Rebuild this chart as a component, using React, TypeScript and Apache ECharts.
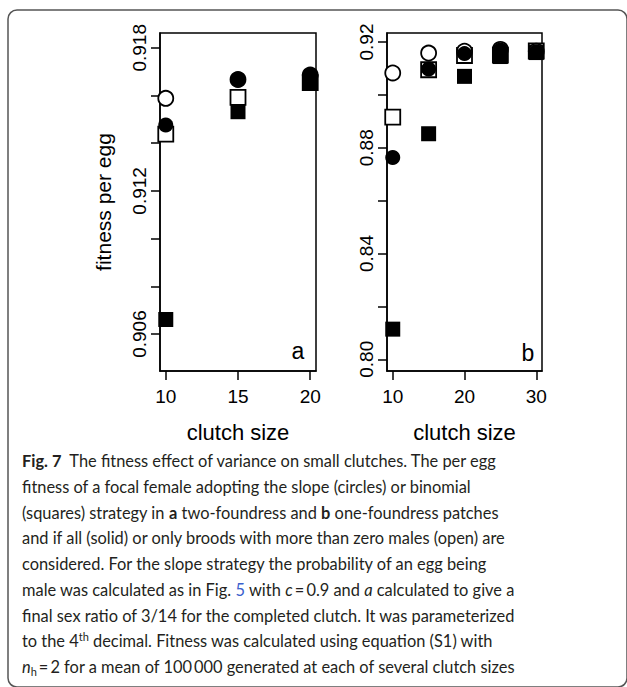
import React, { useEffect, useRef } from "react";
import * as echarts from "echarts";

// ---- data ----
const xA = [10, 15, 20];
const aSlopeAll = [0.91476, 0.91667, 0.91686]; // filled circles
const aSlopeMale = [0.91588, 0.91667, 0.91686]; // open circles
const aBinomAll = [0.90661, 0.91532, 0.91654]; // filled squares
const aBinomMale = [0.91438, 0.91592, 0.91654]; // open squares

const xB = [10, 15, 20, 25, 30];
const bSlopeAll = [0.8763, 0.9098, 0.9156, 0.917, 0.9163];
const bSlopeMale = [0.9083, 0.9158, 0.9165, 0.9172, 0.9165];
const bBinomAll = [0.8114, 0.8853, 0.907, 0.9145, 0.916];
const bBinomMale = [0.8916, 0.9095, 0.9149, 0.915, 0.9166];

const aXTicks = [10, 15, 20];
const aYTicks = [0.906, 0.908, 0.91, 0.912, 0.914, 0.916, 0.918];
const aYLabels = [0.906, 0.912, 0.918];
const bXTicks = [10, 20, 30];
const bYTicks = [0.8, 0.82, 0.84, 0.86, 0.88, 0.9, 0.92];
const bYLabels = [0.8, 0.84, 0.88, 0.92];

const captionLines = [
  "{b|Fig. 7}  The fitness effect of variance on small clutches. The per egg",
  "fitness of a focal female adopting the slope (circles) or binomial",
  "(squares) strategy in {b|a} two-foundress and {b|b} one-foundress patches",
  "and if all (solid) or only broods with more than zero males (open) are",
  "considered. For the slope strategy the probability of an egg being",
  "male was calculated as in Fig. {blue|5} with {i|c}\u2009=\u20090.9 and {i|a} calculated to give a",
  "final sex ratio of 3/14 for the completed clutch. It was parameterized",
  "to the 4{sup|th} decimal. Fitness was calculated using equation (S1) with",
  "{i|n}{sub|h}\u2009=\u20092 for a mean of 100\u2009000 generated at each of several clutch sizes",
];

const AX_FONT = "Liberation Sans";
const CAP_FONT = "Lato";
const CAP_SIZE = 16.4;

function pts(xs: number[], ys: number[]) {
  return xs.map((x, i) => [x, ys[i]]);
}

export default function App() {
  const ref = useRef<HTMLDivElement>(null);
  useEffect(() => {
    if (!ref.current) return;
    const chart = echarts.init(ref.current, undefined, { renderer: "svg" });

    const mkX = (idx: number, min: number, max: number, ticks: number[]) => ({
      type: "value",
      gridIndex: idx,
      min,
      max,
      name: "clutch size",
      nameLocation: "middle",
      nameGap: 50,
      nameTextStyle: { fontSize: 22, color: "#000", fontFamily: AX_FONT },
      axisLine: { show: true, onZero: false, lineStyle: { color: "#000", width: 1.5 } },
      axisTick: { show: true, customValues: ticks, length: 9, lineStyle: { color: "#000", width: 1.5 } },
      axisLabel: { customValues: ticks, fontSize: 19, color: "#000", fontFamily: AX_FONT, margin: 16 },
      splitLine: { show: false },
    });

    const mkY = (
      idx: number,
      min: number,
      max: number,
      ticks: number[],
      labels: number[],
      digits: number,
      name: string
    ) => ({
      type: "value",
      gridIndex: idx,
      min,
      max,
      name,
      nameLocation: "middle",
      nameGap: 46,
      nameTextStyle: { fontSize: 21, color: "#000", fontFamily: AX_FONT },
      axisLine: { show: true, onZero: false, lineStyle: { color: "#000", width: 1.5 } },
      axisTick: { show: true, customValues: ticks, length: 9, lineStyle: { color: "#000", width: 1.5 } },
      axisLabel: {
        customValues: labels,
        rotate: 90,
        fontSize: 19,
        color: "#000",
        fontFamily: AX_FONT,
        margin: 11,
        formatter: (v: number) => v.toFixed(digits),
      },
      splitLine: { show: false },
    });

    const open = { color: "#fff", borderColor: "#000", borderWidth: 1.8, opacity: 1 };
    const filled = { color: "#000", opacity: 1 };
    const mkS = (xi: number, data: number[][], symbol: string, style: any, z: number) => ({
      type: "scatter",
      xAxisIndex: xi,
      yAxisIndex: xi,
      data,
      symbol,
      symbolSize: 15,
      itemStyle: style,
      emphasis: { disabled: true },
      z,
      clip: false,
    });

    const capStyles = captionLines.map((t, i) => ({
      text: t,
      x: 22,
      y: 460.5 + i * 25.75,
      fill: "#231f20",
      fontSize: CAP_SIZE,
      fontFamily: CAP_FONT,
      verticalAlign: "middle",
      rich: {
        b: { fontWeight: "bold", fontSize: CAP_SIZE, fontFamily: CAP_FONT, fill: "#231f20" },
        i: { fontStyle: "italic", fontSize: CAP_SIZE, fontFamily: CAP_FONT, fill: "#231f20" },
        blue: { fontSize: CAP_SIZE, fontFamily: CAP_FONT, fill: "#3a5fcd" },
        sup: { fontSize: 11, fontFamily: CAP_FONT, fill: "#231f20", verticalAlign: "top", lineHeight: 20 },
        sub: { fontSize: 11, fontFamily: CAP_FONT, fill: "#231f20", verticalAlign: "bottom", lineHeight: 20 },
      },
    }));

    chart.setOption({
      animation: false,
      backgroundColor: "#fff",
      grid: [
        { left: 160, top: 33, width: 156, height: 338, show: true, borderColor: "#000", borderWidth: 1.5, backgroundColor: "transparent" },
        { left: 387, top: 33, width: 155, height: 338, show: true, borderColor: "#000", borderWidth: 1.5, backgroundColor: "transparent" },
      ],
      xAxis: [mkX(0, 9.6, 20.4, aXTicks), mkX(1, 9.2, 30.8, bXTicks)],
      yAxis: [
        mkY(0, 0.90445, 0.91862, aYTicks, aYLabels, 3, "fitness per egg"),
        mkY(1, 0.79557, 0.9234, bYTicks, bYLabels, 2, ""),
      ],
      series: [
        mkS(0, pts(xA, aBinomMale), "rect", open, 2),
        mkS(0, pts(xA, aBinomAll), "rect", filled, 3),
        mkS(0, pts(xA, aSlopeMale), "circle", open, 4),
        mkS(0, pts(xA, aSlopeAll), "circle", filled, 5),
        mkS(1, pts(xB, bBinomMale), "rect", open, 2),
        mkS(1, pts(xB, bBinomAll), "rect", filled, 3),
        mkS(1, pts(xB, bSlopeMale), "circle", open, 4),
        mkS(1, pts(xB, bSlopeAll), "circle", filled, 5),
      ],
      graphic: [
        {
          type: "rect",
          silent: true,
          shape: { x: 8, y: 10, width: 619, height: 677, r: 9 },
          style: { fill: "none", stroke: "#555", lineWidth: 1.5 },
        },
        {
          type: "text",
          silent: true,
          style: { text: "a", x: 298, y: 351, fontSize: 23, fontFamily: AX_FONT, fill: "#000", align: "center", verticalAlign: "middle" },
          z: 10,
        },
        {
          type: "text",
          silent: true,
          style: { text: "b", x: 528, y: 353, fontSize: 23, fontFamily: AX_FONT, fill: "#000", align: "center", verticalAlign: "middle" },
          z: 10,
        },
        ...capStyles.map((s) => ({ type: "text", silent: true, style: s, z: 10 })),
      ],
    });
    return () => chart.dispose();
  }, []);
  return (
    <div
      ref={ref}
      style={{ position: "absolute", left: 0, top: 0, width: 627, height: 687 }}
    />
  );
}
